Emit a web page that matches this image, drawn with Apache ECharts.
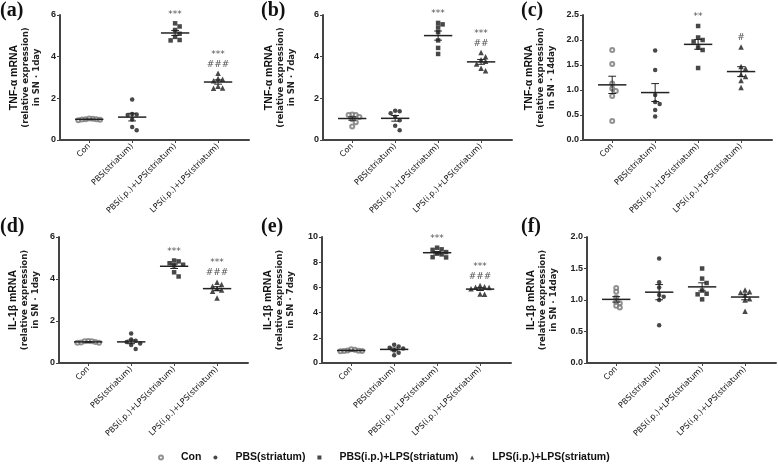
<!DOCTYPE html>
<html><head><meta charset="utf-8">
<script src="https://cdn.jsdelivr.net/npm/echarts@6/dist/echarts.min.js"></script>
<style>html,body{margin:0;padding:0;background:#fff}#c{width:778px;height:469px}</style>
</head><body><div id="c"></div>
<script>
// ---- categories ----
const categories = ['Con', 'PBS(striatum)', 'PBS(i.p.)+LPS(striatum)', 'LPS(i.p.)+LPS(striatum)'];

// ---- (a) TNF-α, 1 day ----
const tnf1_con    = [1.02, 1.0, 0.97, 0.95, 0.98, 1.0, 1.03];
const tnf1_pbs    = [1.95, 1.25, 1.22, 1.2, 0.98, 0.62, 0.47];
const tnf1_pbsLps = [5.6, 5.45, 5.28, 5.1, 4.95, 4.8, 4.78];
const tnf1_lpsLps = [3.2, 2.95, 2.92, 2.85, 2.58, 2.5, 2.48];
const tnf1_sig    = ['', '', '***', '***\n###'];

// ---- (b) TNF-α, 7 day ----
const tnf7_con    = [1.22, 1.2, 1.2, 1.1, 1.0, 0.85, 0.65];
const tnf7_pbs    = [1.4, 1.38, 1.28, 1.12, 0.95, 0.68, 0.47];
const tnf7_pbsLps = [5.62, 5.55, 5.4, 5.18, 4.78, 4.42, 4.13];
const tnf7_lpsLps = [4.2, 4.0, 3.85, 3.78, 3.65, 3.45, 3.32];
const tnf7_sig    = ['', '', '***', '***\n##'];

// ---- (c) TNF-α, 14 day ----
const tnf14_con    = [1.8, 1.52, 1.13, 1.03, 0.98, 0.88, 0.38];
const tnf14_pbs    = [1.79, 1.4, 0.9, 0.76, 0.72, 0.6, 0.47];
const tnf14_pbsLps = [2.28, 2.05, 2.0, 1.97, 1.85, 1.8, 1.44];
const tnf14_lpsLps = [1.86, 1.47, 1.43, 1.31, 1.27, 1.19, 1.05];
const tnf14_sig    = ['', '', '**', '#'];

// ---- (d) IL-1β, 1 day ----
const il1_con    = [1.05, 1.03, 0.98, 0.96, 0.97, 1.0, 1.04];
const il1_pbs    = [1.4, 1.12, 1.06, 1.0, 0.93, 0.86, 0.67];
const il1_pbsLps = [4.88, 4.84, 4.75, 4.68, 4.65, 4.32, 4.12];
const il1_lpsLps = [3.85, 3.74, 3.65, 3.55, 3.48, 3.42, 3.1];
const il1_sig    = ['', '', '***', '***\n###'];

// ---- (e) IL-1β, 7 day ----
const il7_con    = [1.1, 1.0, 0.95, 0.93, 0.95, 0.98, 1.05];
const il7_pbs    = [1.45, 1.3, 1.22, 1.15, 1.0, 0.82, 0.62];
const il7_pbsLps = [9.15, 9.02, 8.98, 8.8, 8.68, 8.62, 8.4, 8.38];
const il7_lpsLps = [6.15, 6.05, 6.0, 6.02, 5.9, 5.48, 5.45];
const il7_sig    = ['', '', '***', '***\n###'];

// ---- (f) IL-1β, 14 day ----
const il14_con    = [1.19, 1.13, 1.04, 0.97, 0.95, 0.91, 0.88];
const il14_pbs    = [1.66, 1.28, 1.2, 1.08, 1.05, 1.0, 0.6];
const il14_pbsLps = [1.5, 1.34, 1.27, 1.15, 1.1, 1.09, 1.01];
const il14_lpsLps = [1.16, 1.13, 1.12, 1.08, 1.02, 1.0, 0.82];
const il14_sig    = ['', '', '', ''];

// ---- axis settings ----
const panelLetters = ['(a)', '(b)', '(c)', '(d)', '(e)', '(f)'];
const yTitles = ['TNF-α mRNA', 'TNF-α mRNA', 'TNF-α mRNA', 'IL-1β mRNA', 'IL-1β mRNA', 'IL-1β mRNA'];
const yDays = ['in SN · 1day', 'in SN · 7day', 'in SN · 14day', 'in SN · 1day', 'in SN · 7day', 'in SN · 14day'];
const yMaxs = [6, 6, 2.5, 6, 10, 2];
const ySteps = [2, 2, 0.5, 2, 2, 0.5];
const yDecimals = [0, 0, 1, 0, 0, 1];

const panelData = [
  [tnf1_con, tnf1_pbs, tnf1_pbsLps, tnf1_lpsLps, tnf1_sig],
  [tnf7_con, tnf7_pbs, tnf7_pbsLps, tnf7_lpsLps, tnf7_sig],
  [tnf14_con, tnf14_pbs, tnf14_pbsLps, tnf14_lpsLps, tnf14_sig],
  [il1_con, il1_pbs, il1_pbsLps, il1_lpsLps, il1_sig],
  [il7_con, il7_pbs, il7_pbsLps, il7_lpsLps, il7_sig],
  [il14_con, il14_pbs, il14_pbsLps, il14_lpsLps, il14_sig]
];

// ---- layout / style ----
const layout = [
  {left: 60, top: 15, height: 125, gap: 18, lx: 0, ly: 1},
  {left: 323, top: 15, height: 125, gap: 26, lx: 261, ly: 1},
  {left: 583, top: 15, height: 125, gap: 26, lx: 521, ly: 1},
  {left: 59, top: 237, height: 126, gap: 18, lx: 0, ly: 217},
  {left: 322, top: 237, height: 126, gap: 26, lx: 261, ly: 217},
  {left: 587, top: 237, height: 126, gap: 28, lx: 521, ly: 217}
];
const GW = 189, XMIN = -0.68, XMAX = 3.72;
const symbols = ['emptyCircle', 'circle', 'rect', 'triangle'];
const symSizes = [4, 4.5, 4.5, 5.5];
const swarmGap = [3.6, 4.5, 4.5, 4.5];
const INK = '#1a1a1a';
const styles = [{color: '#777', borderWidth: 0.9}, {color: INK}, {color: INK}, {color: INK}];

function swarm(vals, pxX, pxY, D) {
  const S = D;
  const placed = [], out = new Array(vals.length);
  const order = vals.map((v, i) => i).sort((a, b) => vals[b] - vals[a]);
  for (const i of order) {
    const y = vals[i] * pxY; let off = 0;
    for (let n = 0; n < 40; n++) {
      off = n === 0 ? 0 : (n % 2 ? 1 : -1) * Math.ceil(n / 2) * S;
      if (placed.every(p => (p.x - off) ** 2 + (p.y - y) ** 2 >= D * D - 0.01)) break;
    }
    placed.push({x: off, y}); out[i] = off / pxX;
  }
  return out;
}
function stats(v) {
  const n = v.length, m = v.reduce((a, b) => a + b, 0) / n;
  const sd = Math.sqrt(v.reduce((a, b) => a + (b - m) ** 2, 0) / (n - 1));
  return [m, sd / Math.sqrt(n)];
}

const grids = [], xAxes = [], yAxes = [], series = [], graphics = [];
layout.forEach((L, p) => {
  grids.push({left: L.left, top: L.top, width: GW, height: L.height, containLabel: false});
  xAxes.push({
    type: 'value', gridIndex: p, min: XMIN, max: XMAX,
    axisLine: {show: true, onZero: false, lineStyle: {color: '#444', width: 2}},
    axisTick: {show: true, customValues: [0, 1, 2, 3], length: 3, lineStyle: {color: '#444'}},
    splitLine: {show: false},
    axisLabel: {customValues: [0, 1, 2, 3], rotate: 45, fontSize: 8, fontFamily: 'DejaVu Sans', color: '#111', margin: 5,
      formatter: v => categories[Math.round(v)] || ''}
  });
  const dec = yDecimals[p];
  yAxes.push({
    type: 'value', gridIndex: p, min: 0, max: yMaxs[p], interval: ySteps[p],
    axisLine: {show: true, onZero: false, lineStyle: {color: '#444', width: 2}},
    axisTick: {show: true, length: 3, lineStyle: {color: '#444'}},
    splitLine: {show: false},
    axisLabel: {fontSize: 9, fontWeight: 'bold', fontFamily: 'Liberation Sans', color: '#222', margin: 4,
      formatter: v => v.toFixed(dec)},
    name: '{b|' + yTitles[p] + '}\n{n|(relative expression)}\n{n|' + yDays[p] + '}',
    nameLocation: 'middle', nameGap: L.gap,
    nameTextStyle: {align: 'center', rich: {
      b: {fontSize: 10.5, fontWeight: 'bold', fontFamily: 'Liberation Sans', color: '#111', lineHeight: 12, align: 'center'},
      n: {fontSize: 9.5, fontWeight: 'bold', fontFamily: 'DejaVu Sans Condensed', color: '#222', lineHeight: 11, align: 'center'}
    }}
  });
  const pxX = GW / (XMAX - XMIN), pxY = L.height / yMaxs[p];
  const groups = panelData[p].slice(0, 4), sig = panelData[p][4];
  groups.forEach((vals, g) => {
    const off = swarm(vals, pxX, pxY, swarmGap[g]);
    series.push({
      type: 'scatter', name: categories[g], xAxisIndex: p, yAxisIndex: p,
      symbol: symbols[g], symbolSize: symSizes[g],
      itemStyle: styles[g],
      data: vals.map((v, i) => [g + off[i], v]), z: 3, silent: true
    });
  });
  series.push({
    type: 'custom', xAxisIndex: p, yAxisIndex: p, z: 4, silent: true,
    data: groups.map((v, g) => [g].concat(stats(v))),
    renderItem: (params, api) => {
      const x = api.value(0), m = api.value(1), s = api.value(2);
      const a = api.coord([x - 0.33, m]), b = api.coord([x + 0.33, m]);
      const t = api.coord([x, m + s]), bt = api.coord([x, m - s]);
      const cw = 0.09 * pxX;
      const st = {stroke: '#222', lineWidth: 1.5};
      const st2 = {stroke: '#222', lineWidth: 1};
      return {type: 'group', children: [
        {type: 'line', shape: {x1: a[0], y1: a[1], x2: b[0], y2: b[1]}, style: st},
        {type: 'line', shape: {x1: t[0], y1: t[1], x2: bt[0], y2: bt[1]}, style: st2},
        {type: 'line', shape: {x1: t[0] - cw, y1: t[1], x2: t[0] + cw, y2: t[1]}, style: st2},
        {type: 'line', shape: {x1: bt[0] - cw, y1: bt[1], x2: bt[0] + cw, y2: bt[1]}, style: st2}
      ]};
    }
  });
  series.push({
    type: 'custom', xAxisIndex: p, yAxisIndex: p, z: 5, silent: true,
    data: groups.map((v, g) => [g, Math.max.apply(null, v)]),
    renderItem: (params, api) => {
      const txt = sig[params.dataIndex];
      if (!txt) return null;
      const c = api.coord([api.value(0), api.value(1)]);
      return {type: 'text', x: c[0], y: c[1] - 4, style: {text: txt, fill: '#555', fontSize: 9, fontFamily: 'DejaVu Sans',
        fontStyle: 'italic', align: 'center', verticalAlign: 'bottom', lineHeight: 10}};
    }
  });
  graphics.push({type: 'text', left: L.lx, top: L.ly, style: {text: panelLetters[p], fill: '#111',
    font: 'bold 20px "Liberation Serif"'}});
});

const chart = echarts.init(document.getElementById('c'), null, {renderer: 'canvas'});
chart.setOption({
  backgroundColor: '#fff',
  animation: false,
  grid: grids, xAxis: xAxes, yAxis: yAxes, series: series, graphic: graphics,
  legend: {
    left: 153, top: 447, itemWidth: 4, itemHeight: 4, itemGap: 12, selectedMode: false,
    textStyle: {fontSize: 10.5, fontWeight: 'bold', fontFamily: 'Liberation Sans', color: '#111', padding: [0, 0, 0, 13]},
    data: categories.map((c, g) => ({name: c, icon: symbols[g], itemStyle: styles[g]}))
  }
});
</script></body></html>
